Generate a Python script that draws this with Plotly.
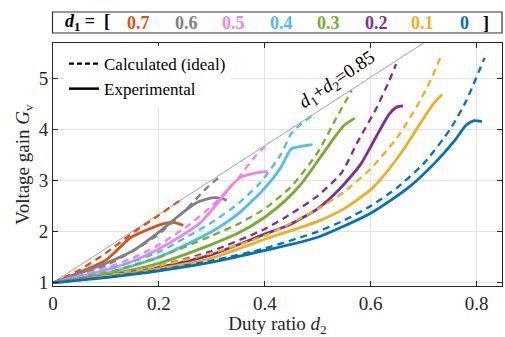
import plotly.graph_objects as go

# ---------------- data ----------------
d1_labels = ["0.7", "0.6", "0.5", "0.4", "0.3", "0.2", "0.1", "0"]
colors = ["#D95319", "#808080", "#EE82EE", "#4DBEEE", "#77AC30", "#7E2F8E", "#EDB120", "#0072BD"]

# Calculated (ideal) curves: d2 values and gains
calc_d2_07 = [0, 0.05, 0.10, 0.15, 0.20, 0.245]
calc_g_07 = [1, 1.25, 1.58, 1.97, 2.32, 2.65]
calc_d2_06 = [0, 0.05, 0.10, 0.15, 0.20, 0.25, 0.29, 0.318]
calc_g_06 = [1, 1.15, 1.34, 1.61, 1.95, 2.42, 2.85, 3.10]
calc_d2_05 = [0, 0.10, 0.15, 0.20, 0.25, 0.30, 0.35, 0.38, 0.409]
calc_g_05 = [1, 1.29, 1.48, 1.74, 2.08, 2.50, 3.05, 3.45, 3.75]
calc_d2_04 = [0, 0.10, 0.20, 0.25, 0.30, 0.35, 0.39, 0.43, 0.45, 0.47, 0.49]
calc_g_04 = [1, 1.24, 1.60, 1.88, 2.18, 2.55, 2.94, 3.50, 3.92, 4.12, 4.27]
calc_d2_03 = [0, 0.10, 0.20, 0.30, 0.35, 0.40, 0.45, 0.50, 0.535, 0.564]
calc_g_03 = [1, 1.19, 1.50, 1.92, 2.15, 2.45, 2.88, 3.55, 4.22, 4.76]
calc_d2_02 = [0, 0.10, 0.20, 0.30, 0.40, 0.45, 0.50, 0.545, 0.575, 0.61, 0.635, 0.648]
calc_g_02 = [1, 1.14, 1.33, 1.62, 2.05, 2.35, 2.70, 3.15, 3.75, 4.40, 4.95, 5.28]
calc_d2_01 = [0, 0.10, 0.20, 0.30, 0.40, 0.50, 0.55, 0.60, 0.65, 0.69, 0.715, 0.733]
calc_g_01 = [1, 1.14, 1.33, 1.58, 1.92, 2.44, 2.78, 3.23, 3.84, 4.50, 5.00, 5.44]
calc_d2_00 = [0, 0.10, 0.20, 0.30, 0.40, 0.50, 0.55, 0.60, 0.65, 0.70, 0.75, 0.78, 0.815]
calc_g_00 = [1, 1.11, 1.25, 1.43, 1.67, 2.00, 2.22, 2.50, 2.86, 3.33, 4.00, 4.55, 5.40]

# Experimental curves
exp_d2_07 = [0, 0.05, 0.10, 0.145, 0.177, 0.211, 0.228, 0.246]
exp_g_07 = [1, 1.20, 1.44, 1.87, 2.03, 2.16, 2.18, 2.12]
exp_d2_06 = [0, 0.05, 0.10, 0.15, 0.20, 0.24, 0.27, 0.30, 0.318, 0.328]
exp_g_06 = [1, 1.18, 1.38, 1.62, 1.99, 2.33, 2.56, 2.66, 2.65, 2.61]
exp_d2_05 = [0, 0.10, 0.15, 0.20, 0.24, 0.277, 0.315, 0.337, 0.356, 0.384, 0.405]
exp_g_05 = [1, 1.25, 1.42, 1.66, 1.90, 2.16, 2.61, 2.90, 3.07, 3.15, 3.18]
exp_d2_04 = [0, 0.10, 0.20, 0.30, 0.35, 0.40, 0.43, 0.45, 0.47, 0.49]
exp_g_04 = [1, 1.18, 1.50, 2.00, 2.35, 2.85, 3.25, 3.62, 3.67, 3.70]
exp_d2_03 = [0, 0.10, 0.20, 0.30, 0.35, 0.40, 0.44, 0.47, 0.50, 0.53, 0.55, 0.57]
exp_g_03 = [1, 1.15, 1.38, 1.75, 1.97, 2.28, 2.62, 2.95, 3.38, 3.82, 4.08, 4.22]
exp_d2_02 = [0, 0.10, 0.20, 0.30, 0.40, 0.45, 0.50, 0.54, 0.58, 0.61, 0.635, 0.65, 0.661]
exp_g_02 = [1, 1.13, 1.30, 1.55, 1.95, 2.15, 2.45, 2.82, 3.30, 3.85, 4.30, 4.44, 4.46]
exp_d2_01 = [0, 0.10, 0.20, 0.30, 0.40, 0.50, 0.55, 0.60, 0.625, 0.665, 0.70, 0.72, 0.735]
exp_g_01 = [1, 1.12, 1.27, 1.48, 1.85, 2.20, 2.45, 2.82, 3.10, 3.65, 4.22, 4.52, 4.68]
exp_d2_00 = [0, 0.10, 0.20, 0.30, 0.40, 0.50, 0.60, 0.67, 0.72, 0.76, 0.78, 0.795, 0.81]
exp_g_00 = [1, 1.10, 1.23, 1.40, 1.63, 1.89, 2.36, 2.85, 3.33, 3.80, 4.08, 4.17, 4.15]

# boundary line d1+d2 = 0.85
bound_d2 = [0, 0.70]
bound_g = [1, 5.69]

calc_x = [calc_d2_07, calc_d2_06, calc_d2_05, calc_d2_04, calc_d2_03, calc_d2_02, calc_d2_01, calc_d2_00]
calc_y = [calc_g_07, calc_g_06, calc_g_05, calc_g_04, calc_g_03, calc_g_02, calc_g_01, calc_g_00]
exp_x = [exp_d2_07, exp_d2_06, exp_d2_05, exp_d2_04, exp_d2_03, exp_d2_02, exp_d2_01, exp_d2_00]
exp_y = [exp_g_07, exp_g_06, exp_g_05, exp_g_04, exp_g_03, exp_g_02, exp_g_01, exp_g_00]

x_ticks = [0, 0.2, 0.4, 0.6, 0.8]
x_tick_text = ["0", "0.2", "0.4", "0.6", "0.8"]
y_ticks = [1, 2, 3, 4, 5]
y_tick_text = ["1", "2", "3", "4", "5"]

# ---------------- figure ----------------
SERIF = "Liberation Serif, Times New Roman, serif"
W, H = 505, 337
ML, MR, MT, MB = 53, 3, 43, 51
PW, PH = W - ML - MR, H - MT - MB

fig = go.Figure()

fig.add_trace(go.Scatter(x=bound_d2, y=bound_g, mode="lines",
                         line=dict(color="#8c8c8c", width=0.8),
                         showlegend=False, hoverinfo="skip"))

for i in range(len(colors)):
    fig.add_trace(go.Scatter(x=calc_x[i], y=calc_y[i], mode="lines",
                             line=dict(color=colors[i], width=2.3, dash="7px,5px",
                                       shape="spline", smoothing=0.6),
                             showlegend=False))
    fig.add_trace(go.Scatter(x=exp_x[i], y=exp_y[i], mode="lines",
                             line=dict(color=colors[i], width=2.8,
                                       shape="spline", smoothing=0.6),
                             showlegend=False))

# legend entries
fig.add_trace(go.Scatter(x=[None], y=[None], mode="lines", name="Calculated (ideal)",
                         line=dict(color="black", width=2.2, dash="5px,3px")))
fig.add_trace(go.Scatter(x=[None], y=[None], mode="lines", name="Experimental",
                         line=dict(color="black", width=2.5)))

def px2paper_x(px):
    return (px - ML) / PW

def py2paper_y(py):
    return (H - MB - py) / PH

annotations = []
# top d1 box
annotations.append(dict(xref="paper", yref="paper", x=px2paper_x(87), y=py2paper_y(22.5),
                        text="<b><i>d</i><sub>1</sub> =  [</b>", showarrow=False,
                        font=dict(family=SERIF, size=18, color="black"),
                        xanchor="center", yanchor="middle"))
item_px = [138, 186, 233, 281, 328, 376, 422, 464]
for lab, c, px in zip(d1_labels, colors, item_px):
    annotations.append(dict(xref="paper", yref="paper", x=px2paper_x(px), y=py2paper_y(22.5),
                            text="<b>" + lab + "</b>", showarrow=False,
                            font=dict(family=SERIF, size=18, color=c),
                            xanchor="center", yanchor="middle"))
annotations.append(dict(xref="paper", yref="paper", x=px2paper_x(486), y=py2paper_y(22.5),
                        text="<b>]</b>", showarrow=False,
                        font=dict(family=SERIF, size=18, color="black"),
                        xanchor="center", yanchor="middle"))
# boundary label
annotations.append(dict(xref="x", yref="y", x=0.538, y=4.96,
                        text="<i>d</i><sub>1</sub>+<i>d</i><sub>2</sub>=0.85", showarrow=False,
                        textangle=-34,
                        font=dict(family=SERIF, size=19, color="black"),
                        xanchor="center", yanchor="middle"))

shapes = [dict(type="rect", xref="paper", yref="paper",
               x0=px2paper_x(52.5), x1=px2paper_x(502), y0=py2paper_y(33), y1=py2paper_y(12),
               line=dict(color="#333333", width=1.2), fillcolor="white")]

axis_common = dict(showgrid=True, gridcolor="#e3e3e3", gridwidth=1,
                   showline=True, linecolor="#262626", linewidth=1, mirror="allticks",
                   ticks="inside", ticklen=5, tickcolor="#262626", zeroline=False,
                   tickfont=dict(family=SERIF, size=19, color="#262626"))

fig.update_layout(
    width=W, height=H,
    font=dict(family=SERIF, color="#262626"),
    margin=dict(l=ML, r=MR, t=MT, b=MB, pad=0),
    paper_bgcolor="white", plot_bgcolor="white",
    xaxis=dict(range=[0, 0.848], tickvals=x_ticks, ticktext=x_tick_text,
               title=dict(text="Duty ratio <i>d</i><sub>2</sub>", standoff=2,
                          font=dict(family=SERIF, size=19, color="#262626")),
               **axis_common),
    yaxis=dict(range=[0.935, 5.69], tickvals=y_ticks, ticktext=y_tick_text,
               title=dict(text="Voltage gain <i>G</i><sub>v</sub>", standoff=4,
                          font=dict(family=SERIF, size=19, color="#262626")),
               **axis_common),
    legend=dict(x=px2paper_x(64), y=py2paper_y(46), xanchor="left", yanchor="top",
                bgcolor="white", borderwidth=0, tracegroupgap=0, itemwidth=30,
                font=dict(family=SERIF, size=17, color="black")),
    annotations=annotations,
    shapes=shapes,
    showlegend=True,
)

fig.write_html("out.html")
